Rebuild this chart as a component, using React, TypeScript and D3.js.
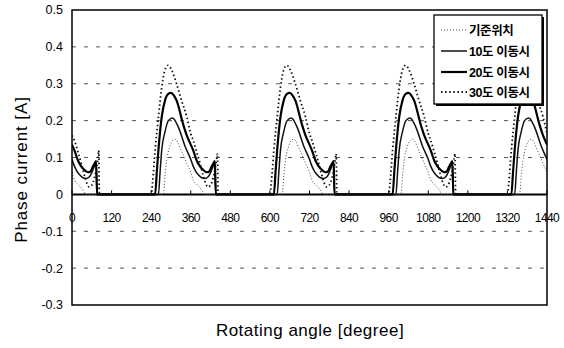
import * as d3 from 'd3';
import React from 'react';

// chart values (rotating angle in degrees, phase current in A)
const X_TICKS = [0, 120, 240, 360, 480, 600, 720, 840, 960, 1080, 1200, 1320, 1440];
const Y_TICKS = [-0.3, -0.2, -0.1, 0, 0.1, 0.2, 0.3, 0.4, 0.5];
const GRID_VALUES = [-0.2, -0.1, 0.1, 0.2, 0.3, 0.4];

const SERIES_NAMES = ["기준위치", "10도 이동시", "20도 이동시", "30도 이동시"];

const BASE_POS: [number, number][] = [
  [0, 0.06], [8, 0.038], [18, 0.027], [28, 0.018], [36, 0.008], [40, 0],
  [277, 0], [282, 0.05], [287, 0.092], [295, 0.125], [302, 0.142], [312, 0.15], [320, 0.142], [327, 0.128], [338, 0.105], [348, 0.084],
  [360, 0.06], [368, 0.038], [378, 0.027], [388, 0.018], [396, 0.008], [400, 0],
  [637, 0], [642, 0.05], [647, 0.092], [655, 0.125], [662, 0.142], [672, 0.15], [680, 0.142], [687, 0.128], [698, 0.105], [708, 0.084],
  [720, 0.06], [728, 0.038], [738, 0.027], [748, 0.018], [756, 0.008], [760, 0],
  [997, 0], [1002, 0.05], [1007, 0.092], [1015, 0.125], [1022, 0.142], [1032, 0.15], [1040, 0.142], [1047, 0.128], [1058, 0.105], [1068, 0.084],
  [1080, 0.06], [1088, 0.038], [1098, 0.027], [1108, 0.018], [1116, 0.008], [1120, 0],
  [1357, 0], [1362, 0.05], [1367, 0.092], [1375, 0.125], [1382, 0.142], [1392, 0.15], [1400, 0.142], [1407, 0.128], [1418, 0.105], [1428, 0.084], [1440, 0.06],
];

const SHIFT_10: [number, number][] = [
  [0, 0.095], [5, 0.082], [13, 0.066], [23, 0.053], [33, 0.045], [43, 0.043], [52, 0.047], [58, 0.055], [66, 0.072], [71, 0.083], [73, 0.085], [76, 0], [90, 0],
  [262, 0], [267, 0.06], [272, 0.12], [282, 0.17], [292, 0.2], [305, 0.207], [322, 0.183], [343, 0.13],
  [360, 0.095], [365, 0.082], [373, 0.066], [383, 0.053], [393, 0.045], [403, 0.043], [412, 0.047], [418, 0.055], [426, 0.072], [431, 0.083], [433, 0.085], [436, 0], [450, 0],
  [622, 0], [627, 0.06], [632, 0.12], [642, 0.17], [652, 0.2], [665, 0.207], [682, 0.183], [703, 0.13],
  [720, 0.095], [725, 0.082], [733, 0.066], [743, 0.053], [753, 0.045], [763, 0.043], [772, 0.047], [778, 0.055], [786, 0.072], [791, 0.083], [793, 0.085], [796, 0], [810, 0],
  [982, 0], [987, 0.06], [992, 0.12], [1002, 0.17], [1012, 0.2], [1025, 0.207], [1042, 0.183], [1063, 0.13],
  [1080, 0.095], [1085, 0.082], [1093, 0.066], [1103, 0.053], [1113, 0.045], [1123, 0.043], [1132, 0.047], [1138, 0.055], [1146, 0.072], [1151, 0.083], [1153, 0.085], [1156, 0], [1170, 0],
  [1342, 0], [1347, 0.06], [1352, 0.12], [1362, 0.17], [1372, 0.2], [1385, 0.207], [1402, 0.183], [1423, 0.13], [1440, 0.095],
];

const SHIFT_20: [number, number][] = [
  [0, 0.135], [8, 0.118], [18, 0.092], [28, 0.076], [38, 0.066], [48, 0.06], [56, 0.062], [63, 0.075], [70, 0.086], [73, 0.09], [76, 0], [90, 0],
  [252, 0], [257, 0.06], [262, 0.12], [272, 0.21], [282, 0.255], [291, 0.272], [300, 0.275], [309, 0.268], [317, 0.255], [337, 0.19], [350, 0.155],
  [360, 0.135], [368, 0.118], [378, 0.092], [388, 0.076], [398, 0.066], [408, 0.06], [416, 0.062], [423, 0.075], [430, 0.086], [433, 0.09], [436, 0], [450, 0],
  [612, 0], [617, 0.06], [622, 0.12], [632, 0.21], [642, 0.255], [651, 0.272], [660, 0.275], [669, 0.268], [677, 0.255], [697, 0.19], [710, 0.155],
  [720, 0.135], [728, 0.118], [738, 0.092], [748, 0.076], [758, 0.066], [768, 0.06], [776, 0.062], [783, 0.075], [790, 0.086], [793, 0.09], [796, 0], [810, 0],
  [972, 0], [977, 0.06], [982, 0.12], [992, 0.21], [1002, 0.255], [1011, 0.272], [1020, 0.275], [1029, 0.268], [1037, 0.255], [1057, 0.19], [1070, 0.155],
  [1080, 0.135], [1088, 0.118], [1098, 0.092], [1108, 0.076], [1118, 0.066], [1128, 0.06], [1136, 0.062], [1143, 0.075], [1150, 0.086], [1153, 0.09], [1156, 0], [1170, 0],
  [1332, 0], [1337, 0.06], [1342, 0.12], [1352, 0.21], [1362, 0.255], [1371, 0.272], [1380, 0.275], [1389, 0.268], [1397, 0.255], [1417, 0.19], [1430, 0.155], [1440, 0.135],
];

const SHIFT_30: [number, number][] = [
  [0, 0.16], [8, 0.145], [18, 0.115], [28, 0.084], [38, 0.05], [45, 0.03], [52, 0.02], [60, 0.025], [68, 0.045], [75, 0.075], [79, 0.1], [81, 0.12], [83, 0], [90, 0],
  [240, 0], [244, 0.03], [252, 0.12], [262, 0.21], [272, 0.29], [281, 0.335], [291, 0.35], [303, 0.335], [317, 0.3], [332, 0.255], [348, 0.21],
  [360, 0.165], [368, 0.145], [378, 0.115], [388, 0.084], [398, 0.05], [405, 0.03], [412, 0.02], [420, 0.025], [428, 0.045], [435, 0.075], [439, 0.1], [441, 0.11], [443, 0], [450, 0],
  [600, 0], [604, 0.03], [612, 0.12], [622, 0.21], [632, 0.29], [641, 0.335], [651, 0.35], [663, 0.335], [677, 0.3], [692, 0.255], [708, 0.21],
  [720, 0.165], [728, 0.145], [738, 0.115], [748, 0.084], [758, 0.05], [765, 0.03], [772, 0.02], [780, 0.025], [788, 0.045], [795, 0.075], [799, 0.1], [801, 0.11], [803, 0], [810, 0],
  [960, 0], [964, 0.03], [972, 0.12], [982, 0.21], [992, 0.29], [1001, 0.335], [1011, 0.35], [1023, 0.335], [1037, 0.3], [1052, 0.255], [1068, 0.21],
  [1080, 0.165], [1088, 0.145], [1098, 0.115], [1108, 0.084], [1118, 0.05], [1125, 0.03], [1132, 0.02], [1140, 0.025], [1148, 0.045], [1155, 0.075], [1159, 0.1], [1161, 0.11], [1163, 0], [1170, 0],
  [1320, 0], [1324, 0.03], [1332, 0.12], [1342, 0.21], [1352, 0.29], [1361, 0.335], [1371, 0.35], [1383, 0.335], [1397, 0.3], [1412, 0.255], [1428, 0.21], [1440, 0.165],
];

const SERIES_DATA = [BASE_POS, SHIFT_10, SHIFT_20, SHIFT_30];

// stroke style per series
const STYLES = [
  { width: 1, dash: "1,2", color: "#444" },
  { width: 1.5, dash: "", color: "#111" },
  { width: 2.2, dash: "", color: "#000" },
  { width: 1.8, dash: "1.5,2.6", color: "#111" },
];

const W = 564;
const H = 348;
const margin = { top: 10, right: 17, bottom: 43, left: 72 };

const FONT = "'Liberation Sans', Arial, sans-serif";
const KFONT = "'Liberation Sans', 'Noto Sans CJK KR', sans-serif";

const App: React.FC = () => {
  const x0 = margin.left;
  const x1 = W - margin.right;
  const y0 = margin.top;
  const y1 = H - margin.bottom;

  const xScale = d3.scaleLinear().domain([0, 1440]).range([x0, x1]);
  const yScale = d3.scaleLinear().domain([-0.3, 0.5]).range([y1, y0]);

  const line = d3.line<[number, number]>()
    .x(d => xScale(d[0]))
    .y(d => yScale(d[1]))
    .curve(d3.curveMonotoneX);

  // legend position
  const lg = { x: 434, y: 15, w: 108, h: 89 };
  const rowY = [30, 51, 72, 92];

  return (
    <div style={{ position: "fixed", left: 0, top: 0 }}>
      <svg width={W} height={H} style={{ display: "block", background: "#fff" }}>
        <defs>
          <clipPath id="plot-clip">
            <rect x={x0} y={y0} width={x1 - x0} height={y1 - y0} />
          </clipPath>
        </defs>

        {/* dashed grid */}
        {GRID_VALUES.map(v => (
          <line key={v} x1={x0} x2={x1} y1={yScale(v)} y2={yScale(v)}
            stroke="#555" strokeWidth={1} strokeDasharray="4,8" />
        ))}

        {/* zero line with small ticks */}
        <line x1={x0} x2={x1} y1={yScale(0)} y2={yScale(0)} stroke="#000" strokeWidth={2} />
        {X_TICKS.map(t => (
          <line key={t} x1={xScale(t)} x2={xScale(t)} y1={yScale(0)} y2={yScale(0) - 4}
            stroke="#000" strokeWidth={1} />
        ))}

        {/* series */}
        <g clipPath="url(#plot-clip)">
          {SERIES_DATA.map((d, i) => (
            <path key={i} d={line(d) || ""} fill="none"
              stroke={STYLES[i].color} strokeWidth={STYLES[i].width}
              strokeDasharray={STYLES[i].dash || undefined} strokeLinejoin="round" />
          ))}
        </g>

        {/* x tick labels inside plot under zero line */}
        {X_TICKS.map(t => (
          <text key={t} x={xScale(t)} y={yScale(0) + 28} textAnchor="middle"
            fontFamily={FONT} fontSize={12} letterSpacing={-0.6} fill="#000">
            {t}
          </text>
        ))}

        {/* frame */}
        <rect x={x0} y={y0} width={x1 - x0} height={y1 - y0} fill="none" stroke="#000" strokeWidth={1.5} />

        {/* y tick labels */}
        {Y_TICKS.map(t => (
          <text key={t} x={x0 - 9} y={yScale(t)} dy="0.35em" textAnchor="end"
            fontFamily={FONT} fontSize={12.5} fill="#000">
            {t === 0 ? "0" : t.toFixed(1)}
          </text>
        ))}

        {/* axis titles */}
        <text transform={`translate(27,${(y0 + y1) / 2 + 12}) rotate(-90)`} textAnchor="middle"
          fontFamily={FONT} fontSize={17} letterSpacing={0.9} fill="#000">
          Phase current [A]
        </text>
        <text x={310} y={336} textAnchor="middle" fontFamily={FONT} fontSize={17}
          letterSpacing={0.5} fill="#000">
          Rotating angle [degree]
        </text>

        {/* legend */}
        <rect x={lg.x + 2} y={lg.y + 2} width={lg.w} height={lg.h} fill="#000" />
        <rect x={lg.x} y={lg.y} width={lg.w} height={lg.h} fill="#fff" stroke="#000" strokeWidth={1.3} />
        {SERIES_NAMES.map((name, i) => (
          <g key={name}>
            <line x1={lg.x + 7} x2={lg.x + 33} y1={rowY[i]} y2={rowY[i]}
              stroke={STYLES[i].color} strokeWidth={STYLES[i].width}
              strokeDasharray={STYLES[i].dash || undefined} />
            <text x={lg.x + 35} y={rowY[i]} dy="0.36em" fontFamily={KFONT} fontSize={12.5}
              fontWeight="bold" letterSpacing={-0.4} fill="#000">
              {name}
            </text>
          </g>
        ))}
      </svg>
    </div>
  );
};

export default App;
